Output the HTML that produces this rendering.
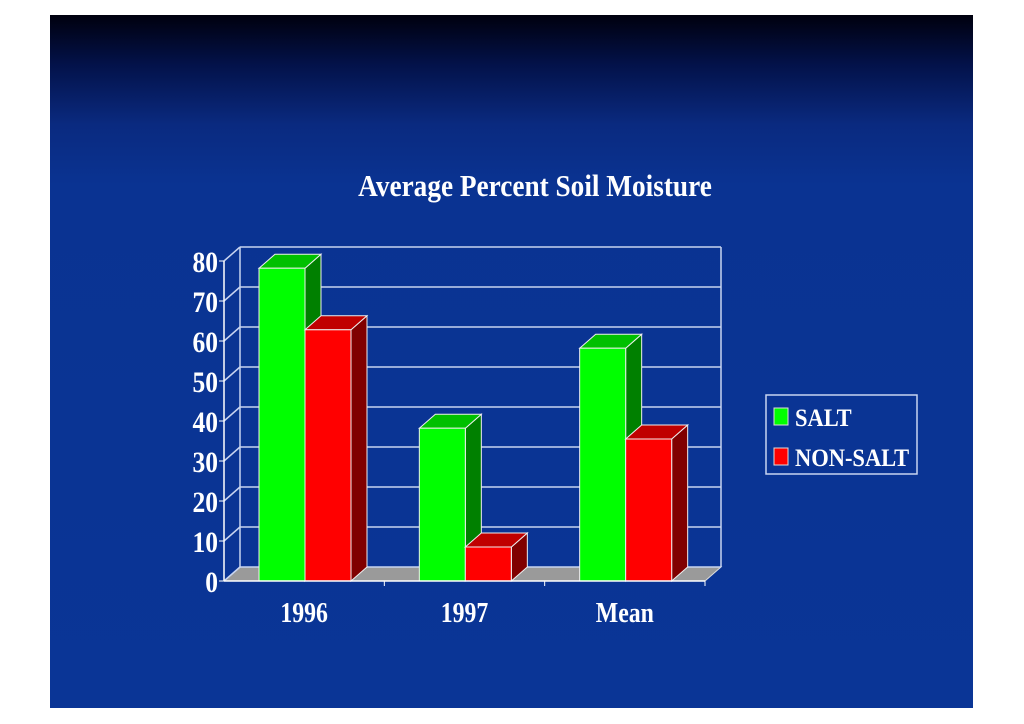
<!DOCTYPE html>
<html><head><meta charset="utf-8"><style>
body{margin:0;background:#fff;width:1024px;height:724px;overflow:hidden}
#slide{position:absolute;left:50px;top:15px;width:923px;height:693px;
background:linear-gradient(180deg,#00000e 0px,#03124a 50px,#0a2a80 110px,#0a3392 170px,#0a3596 693px)}
svg{position:absolute;left:0;top:0}
text{font-family:"Liberation Serif",serif;font-weight:bold;fill:#fff}
</style></head><body>
<div id="slide"></div>
<svg id="chart" width="1024" height="724">
<text x="535" y="196" font-size="31" text-anchor="middle" style="transform:scaleX(0.88);transform-origin:535px 196px">Average Percent Soil Moisture</text>
<g id="grid"></g><g id="bars"></g><g id="axes"></g>
<g>
<rect x="766" y="395" width="151" height="79" fill="none" stroke="#c8d4f0" stroke-width="1.5"/>
<rect x="774" y="408" width="14" height="17" fill="#00ff00" stroke="#ddd"/>
<text x="795" y="426" font-size="25" style="transform:scaleX(0.9);transform-origin:795px 426px">SALT</text>
<rect x="774" y="448" width="14" height="17" fill="#ff0000" stroke="#ddd"/>
<text x="795" y="466" font-size="25" style="transform:scaleX(0.9);transform-origin:795px 466px">NON-SALT</text>
</g>
</svg>
<script>
const categories=["1996","1997","Mean"];
const salt=[78.2,38.2,58.2];
const nonSalt=[62.8,8.5,35.5];
const ticks=[0,10,20,30,40,50,60,70,80];
const NS="http://www.w3.org/2000/svg";
const X0=224,X1=705,Y0=581,PPU=4,DX=16,DY=-14;
const y=v=>Y0-v*PPU;
const catW=(X1-X0)/categories.length;
function mk(tag,attrs,parent){const e=document.createElementNS(NS,tag);for(const k in attrs)e.setAttribute(k,attrs[k]);parent.appendChild(e);return e;}
const grid=document.getElementById('grid'),bars=document.getElementById('bars'),axes=document.getElementById('axes');
let fl=mk('polygon',{points:`${X0},${Y0} ${X1},${Y0} ${X1+DX},${Y0+DY} ${X0+DX},${Y0+DY}`,fill:'#9a9a9a',stroke:'#ddd'},grid);


ticks.forEach(t=>{
 const l=mk('line',{x1:X0+DX,y1:y(t)+DY,x2:X1+DX,y2:y(t)+DY,stroke:'#c8d4f0','stroke-width':1.5},grid);
 
 
 const d=mk('line',{x1:X0,y1:y(t),x2:X0+DX,y2:y(t)+DY,stroke:'#c8d4f0','stroke-width':1.5},grid);
 
 
 const tk=mk('line',{x1:X0-5,y1:y(t),x2:X0,y2:y(t),stroke:'#fff'},axes);
 
 
 const tx=mk('text',{x:X0-6,y:y(t)+11,'font-size':30,'text-anchor':'end',transform:`translate(${X0-6} 0) scale(0.85 1) translate(${-(X0-6)} 0)`},axes);
 tx.textContent=t;
 
 
});
mk('line',{x1:X0+DX,y1:y(80)+DY,x2:X0+DX,y2:Y0+DY,stroke:'#c8d4f0','stroke-width':1.5},grid);
mk('line',{x1:X1+DX,y1:y(80)+DY,x2:X1+DX,y2:Y0+DY,stroke:'#c8d4f0','stroke-width':1.5},grid);
mk('line',{x1:X0,y1:y(0),x2:X0,y2:y(80),stroke:'#fff','stroke-width':1.5},axes);
mk('line',{x1:X0,y1:Y0,x2:X1,y2:Y0,stroke:'#fff','stroke-width':1.5},axes);
function bar(x,w,v,front,top,side,name){
 const g=mk('g',{},bars);
 
 
 const yt=y(v);
 mk('polygon',{points:`${x+w},${yt} ${x+w+DX},${yt+DY} ${x+w+DX},${Y0+DY} ${x+w},${Y0}`,fill:side,stroke:'#eee','stroke-width':1},g);
 mk('polygon',{points:`${x},${yt} ${x+DX},${yt+DY} ${x+w+DX},${yt+DY} ${x+w},${yt}`,fill:top,stroke:'#eee','stroke-width':1},g);
 mk('rect',{x:x,y:yt,width:w,height:Y0-yt,fill:front,stroke:'#eee','stroke-width':1},g);
}
categories.forEach((c,i)=>{
 const cx=X0+catW*i, bw=46, start=cx+35;
 bar(start,bw,salt[i],'#00ff00','#00c000','#008000','bar-salt-'+c.toLowerCase());
 bar(start+bw,bw,nonSalt[i],'#ff0000','#c00000','#800000','bar-non-salt-'+c.toLowerCase());
 const mx=cx+catW/2;
 const t=mk('text',{x:mx,y:622,'font-size':28,'text-anchor':'middle',transform:`translate(${mx} 0) scale(0.85 1) translate(${-mx} 0)`},axes);
 t.textContent=c;
 
 
 const tk=mk('line',{x1:cx+catW,y1:Y0,x2:cx+catW,y2:Y0+5,stroke:'#fff'},axes);
 
 
});
</script>
</body></html>
